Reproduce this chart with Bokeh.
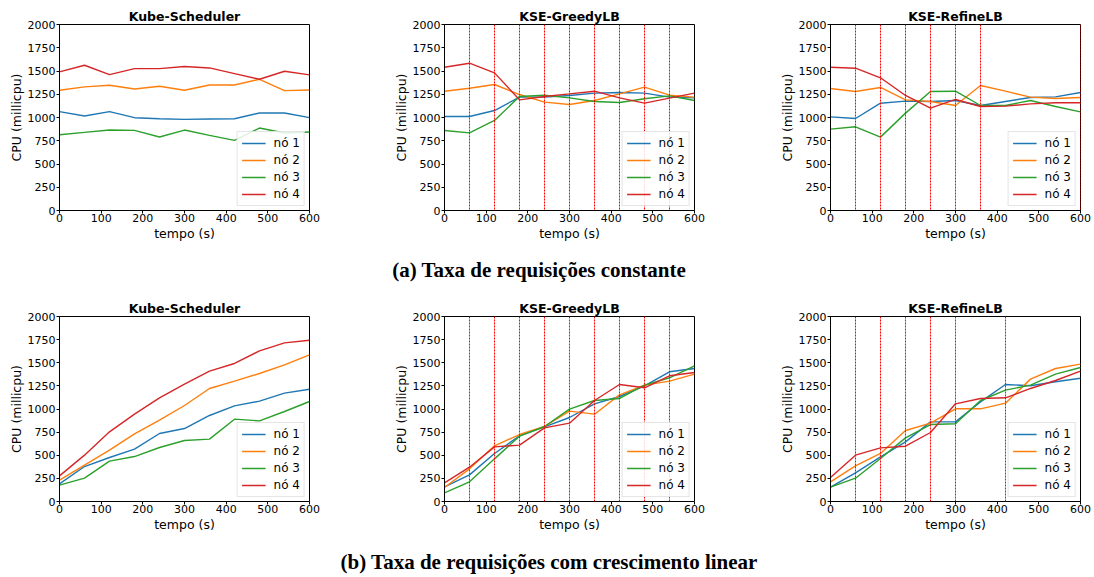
from bokeh.plotting import figure
from bokeh.models import Span, Div, Range1d, FixedTicker
from bokeh.layouts import column, row
from bokeh.embed import file_html
from bokeh.resources import INLINE

t = [0, 60, 120, 180, 240, 300, 360, 420, 480, 540, 600]
node_names = ["nó 1", "nó 2", "nó 3", "nó 4"]
colors = ["#1f77b4", "#ff7f0e", "#2ca02c", "#d62728"]

# (a) constant request rate
ks_const_n1 = [1063, 1016, 1063, 998, 987, 980, 984, 987, 1048, 1048, 998]
ks_const_n2 = [1293, 1329, 1347, 1307, 1336, 1293, 1350, 1350, 1411, 1289, 1296]
ks_const_n3 = [815, 840, 865, 862, 790, 865, 808, 754, 887, 833, 844]
ks_const_n4 = [1490, 1562, 1461, 1526, 1526, 1548, 1533, 1472, 1411, 1497, 1458]

gr_const_n1 = [1011, 1011, 1075, 1219, 1219, 1237, 1262, 1269, 1262, 1219, 1211]
gr_const_n2 = [1283, 1315, 1355, 1247, 1165, 1140, 1183, 1254, 1326, 1240, 1219]
gr_const_n3 = [860, 835, 968, 1226, 1240, 1211, 1172, 1161, 1201, 1233, 1183]
gr_const_n4 = [1541, 1584, 1480, 1190, 1226, 1254, 1283, 1211, 1154, 1208, 1262]

rf_const_n1 = [1007, 989, 1154, 1176, 1172, 1183, 1129, 1172, 1215, 1222, 1269]
rf_const_n2 = [1312, 1280, 1323, 1190, 1172, 1129, 1344, 1283, 1219, 1204, 1215]
rf_const_n3 = [875, 900, 789, 1047, 1280, 1283, 1129, 1129, 1183, 1118, 1061]
rf_const_n4 = [1541, 1530, 1427, 1237, 1100, 1194, 1118, 1122, 1147, 1158, 1158]

# (b) linearly growing request rate
ks_lin_n1 = [191, 378, 476, 566, 735, 789, 930, 1034, 1085, 1171, 1214]
ks_lin_n2 = [231, 393, 555, 732, 879, 1038, 1222, 1301, 1384, 1477, 1586]
ks_lin_n3 = [177, 252, 436, 486, 584, 659, 674, 890, 872, 973, 1081]
ks_lin_n4 = [277, 501, 753, 944, 1121, 1268, 1409, 1492, 1629, 1715, 1744]

gr_lin_n1 = [159, 288, 519, 710, 807, 908, 1056, 1135, 1251, 1402, 1438]
gr_lin_n2 = [151, 353, 602, 724, 811, 977, 944, 1153, 1258, 1301, 1377]
gr_lin_n3 = [94, 213, 461, 706, 811, 998, 1092, 1114, 1258, 1337, 1467]
gr_lin_n4 = [202, 371, 591, 609, 796, 847, 1092, 1265, 1229, 1359, 1395]

rf_lin_n1 = [155, 310, 483, 645, 861, 861, 1077, 1265, 1251, 1294, 1333]
rf_lin_n2 = [213, 386, 519, 768, 847, 1002, 1002, 1063, 1323, 1438, 1485]
rf_lin_n3 = [155, 252, 465, 688, 832, 840, 1092, 1204, 1258, 1377, 1449]
rf_lin_n4 = [259, 501, 580, 598, 746, 1056, 1114, 1121, 1222, 1308, 1409]

# rebalancing events (vertical markers)
gr_const_events = [60, 120, 180, 240, 300, 360, 420, 480, 540]
rf_const_events = [60, 120, 180, 240, 300, 360, 600]
gr_lin_events = [60, 120, 180, 240, 300, 360, 420, 480, 540]
rf_lin_events = [60, 120, 180, 240, 300, 420]

x_ticks = [0, 100, 200, 300, 400, 500, 600]
y_ticks = [0, 250, 500, 750, 1000, 1250, 1500, 1750, 2000]

FONT = "DejaVu Sans"


def make_panel(title, series, events, right, top, fh):
    p = figure(frame_width=250, frame_height=fh, output_backend="svg",
               toolbar_location=None, x_range=Range1d(0, 600), y_range=Range1d(0, 2000),
               min_border_left=59, min_border_right=right, min_border_top=top,
               min_border_bottom=40)
    p.title.text = title
    p.title.align = "center"
    p.title.text_font = FONT
    p.title.text_font_size = "12.5px"
    p.title.text_font_style = "bold"
    p.title.text_color = "black"
    p.title.standoff = 1
    p.title.offset = 0
    p.xgrid.visible = False
    p.ygrid.visible = False
    p.outline_line_color = "black"
    p.outline_line_alpha = 1
    p.outline_line_width = 1
    p.xaxis.ticker = FixedTicker(ticks=x_ticks)
    p.yaxis.ticker = FixedTicker(ticks=y_ticks)
    for ax in (p.xaxis, p.yaxis):
        ax.major_label_text_font = FONT
        ax.major_label_text_font_size = "11px"
        ax.major_label_text_color = "black"
        ax.axis_label_text_font = FONT
        ax.axis_label_text_font_size = "12.5px"
        ax.axis_label_text_font_style = "normal"
        ax.axis_label_text_color = "black"
        ax.major_tick_in = 0
        ax.major_tick_out = 3
        ax.minor_tick_line_color = None
        ax.axis_line_color = "black"
        ax.major_tick_line_color = "black"
        ax.major_label_standoff = 1
        ax.axis_label_standoff = 1
    p.xaxis.major_label_standoff = 0
    p.xaxis.axis_label = "tempo (s)"
    p.yaxis.axis_label = "CPU (millicpu)"
    for ev in events:
        p.add_layout(Span(location=ev, dimension="height", line_color="red",
                          line_width=1, line_dash="2 1"))
    for ys, c, name in zip(series, colors, node_names):
        p.line(t, ys, line_color=c, line_width=1.4, legend_label=name)
    lg = p.legend[0]
    lg.location = "bottom_right"
    lg.label_text_font = FONT
    lg.label_text_font_size = "12px"
    lg.label_text_color = "black"
    lg.border_line_color = "#cccccc"
    lg.border_line_width = 1
    lg.background_fill_alpha = 0.85
    lg.glyph_width = 24
    lg.glyph_height = 14
    lg.label_height = 14
    lg.label_standoff = 8
    lg.spacing = 3
    lg.padding = 4
    lg.margin = 4
    return p


p1 = make_panel("Kube-Scheduler", [ks_const_n1, ks_const_n2, ks_const_n3, ks_const_n4], [], 76, 24, 186)
p2 = make_panel("KSE-GreedyLB", [gr_const_n1, gr_const_n2, gr_const_n3, gr_const_n4], gr_const_events, 77, 24, 186)
p3 = make_panel("KSE-RefineLB", [rf_const_n1, rf_const_n2, rf_const_n3, rf_const_n4], rf_const_events, 12, 24, 186)
p4 = make_panel("Kube-Scheduler", [ks_lin_n1, ks_lin_n2, ks_lin_n3, ks_lin_n4], [], 76, 26, 185)
p5 = make_panel("KSE-GreedyLB", [gr_lin_n1, gr_lin_n2, gr_lin_n3, gr_lin_n4], gr_lin_events, 77, 26, 185)
p6 = make_panel("KSE-RefineLB", [rf_lin_n1, rf_lin_n2, rf_lin_n3, rf_lin_n4], rf_lin_events, 12, 26, 185)

cap_style = {"font-family": "Liberation Serif", "font-weight": "bold", "font-size": "21px",
             "text-align": "center", "color": "black", "box-sizing": "border-box"}
cap_a = Div(text="(a) Taxa de requisições constante", width=1090, height=40, margin=0,
            styles=dict(cap_style, **{"line-height": "40px", "padding-right": "12px", "width": "1090px"}))
cap_b = Div(text="(b) Taxa de requisições com crescimento linear", width=1090, height=30, margin=0,
            styles=dict(cap_style, **{"line-height": "42px", "padding-left": "8px", "width": "1090px"}))

layout = column(row(p1, p2, p3), cap_a, row(p4, p5, p6), cap_b)
open("out.html", "w").write(file_html(layout, INLINE))
